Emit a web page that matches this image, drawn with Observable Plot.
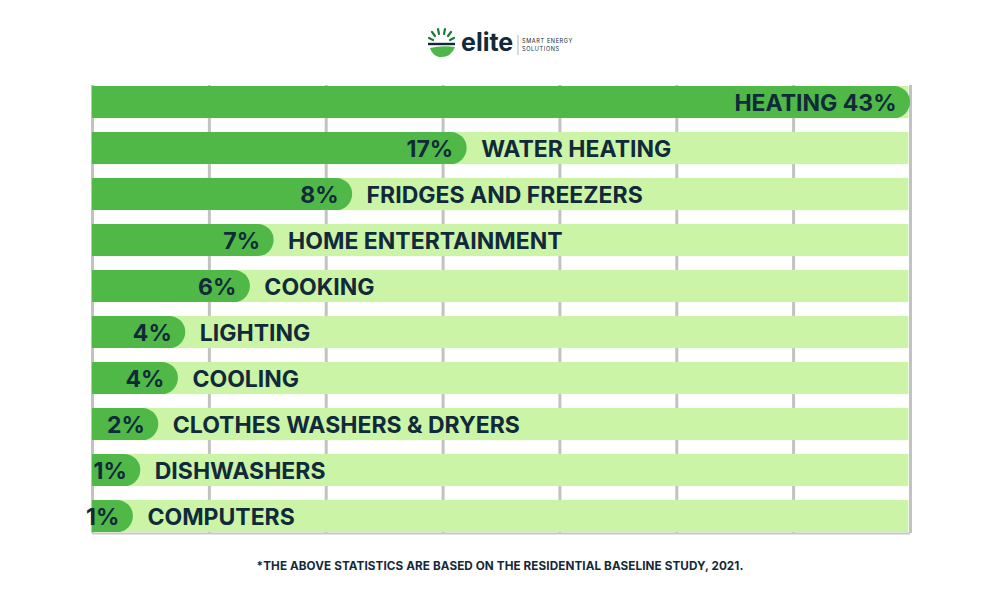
<!DOCTYPE html>
<html>
<head>
<meta charset="utf-8">
<script src="https://cdn.jsdelivr.net/npm/d3@7"></script>
<script src="https://cdn.jsdelivr.net/npm/@observablehq/plot@0.6"></script>
<style>
  html, body { margin: 0; padding: 0; background: #ffffff; }
  body { width: 1000px; height: 600px; overflow: hidden; font-family: Inter, "Open Sans", sans-serif; }
  #header { height: 70px; position: relative; }
  #logo { position: absolute; left: 424px; top: 24px; }
  #chart svg { display: block; }
  #caption { text-align: center; font-weight: 700; font-size: 11.7px; color: #13293a; margin-top: 24px; line-height: 14px; letter-spacing: 0.1px; }
</style>
</head>
<body>
<div id="header">
  <svg id="logo" width="160" height="40" viewBox="0 0 160 40">
    <g stroke="#1f7a3a" stroke-width="2.2" stroke-linecap="round">
      <line x1="5" y1="14" x2="9" y2="16"/>
      <line x1="8" y1="8" x2="11" y2="12"/>
      <line x1="14" y1="5" x2="15" y2="10"/>
      <line x1="21" y1="5" x2="20" y2="10"/>
      <line x1="27" y1="8" x2="24" y2="12"/>
      <line x1="30" y1="14" x2="26" y2="16"/>
    </g>
    <line x1="4" y1="20" x2="31" y2="20" stroke="#13293a" stroke-width="2.4"/>
    <path d="M6 24 Q18 21 31 23 Q27 34 15 33 Q8 31 6 24 Z" fill="#4db848"/>
    <text x="37" y="27" font-family="Inter, sans-serif" font-weight="700" font-size="25" fill="#13293a">elite</text>
    <line x1="94" y1="11" x2="94" y2="31" stroke="#9aa3a8" stroke-width="0.8"/>
    <text x="98" y="19" font-family="Inter, sans-serif" font-size="5.6" fill="#13293a" letter-spacing="0.6">SMART ENERGY</text>
    <text x="98" y="27" font-family="Inter, sans-serif" font-size="5.6" fill="#13293a" letter-spacing="0.6">SOLUTIONS</text>
  </svg>
</div>
<div id="chart"></div>
<div id="caption">*THE ABOVE STATISTICS ARE BASED ON THE RESIDENTIAL BASELINE STUDY, 2021.</div>
<script>
// Categories (top to bottom)
const categories = ["HEATING", "WATER HEATING", "FRIDGES AND FREEZERS", "HOME ENTERTAINMENT", "COOKING", "LIGHTING", "COOLING", "CLOTHES WASHERS & DRYERS", "DISHWASHERS", "COMPUTERS"];
// Share of residential energy use (%)
const shares = [43, 17, 8, 7, 6, 4, 4, 2, 1, 1];
// Drawn length of the dark pill, as percent of the chart width
const barLengths = [100, 45.8, 31.8, 22.2, 19.3, 11.4, 10.5, 8.1, 5.9, 5.0];
// Vertical grid lines, as percent of the chart width
const gridTicks = [0, 14.29, 28.57, 42.86, 57.14, 71.43, 85.71, 100];

const rows = categories.map((c, i) => ({cat: c, share: shares[i], len: barLengths[i]}));

const dark = "#4fb847";
const light = "#ccf4a7";
const ink = "#102a3a";
const font = "Inter, 'Open Sans', sans-serif";

const chart = Plot.plot({
  width: 1000,
  height: 465,
  marginTop: 15,
  marginBottom: 2,
  marginLeft: 92,
  marginRight: 90,
  x: {domain: [0, 100], axis: null},
  y: {domain: categories, axis: null, paddingInner: 0.3, paddingOuter: 0.02, round: false},
  style: {fontFamily: font, background: "#ffffff"},
  marks: [
    Plot.ruleX(gridTicks, {stroke: "#c2c2c2", strokeWidth: 3}),
    Plot.ruleY([categories[categories.length - 1]], {dy: 17, x1: 0, x2: 100, stroke: "#c8c8c8", strokeWidth: 2}),
    Plot.barX(rows, {y: "cat", x1: 0, x2: 99.8, fill: light}),
    Plot.barX(rows, {y: "cat", x1: -5, x2: "len", fill: dark, rx: 16, clip: true}),
    Plot.text(rows, {
      y: "cat", x: "len",
      text: d => d.len >= 100 ? `${d.cat} ${d.share}%` : `${d.share}%`,
      textAnchor: "end", dx: -14, dy: 1,
      fill: ink, fontSize: 23, fontWeight: 700, letterSpacing: 0.3
    }),
    Plot.text(rows.filter(d => d.len < 100), {
      y: "cat", x: "len", text: "cat",
      textAnchor: "start", dx: 14, dy: 1,
      fill: ink, fontSize: 23, fontWeight: 700, letterSpacing: 0.3
    })
  ]
});
document.getElementById("chart").appendChild(chart);
</script>
</body>
</html>
